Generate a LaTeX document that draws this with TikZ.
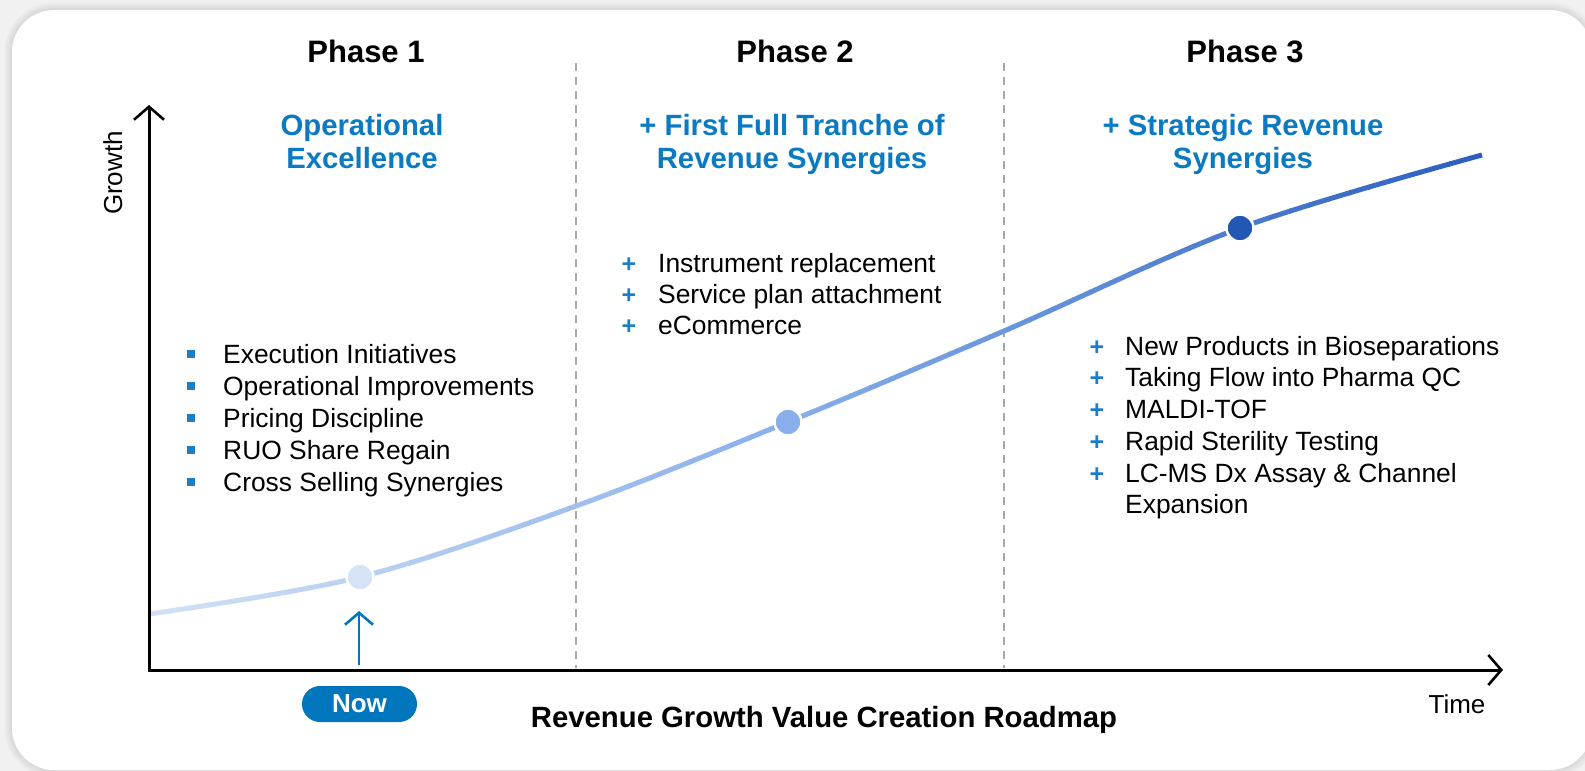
\documentclass[tikz,border=0pt]{standalone}
\usepackage{fontspec}
\setmainfont{Liberation Sans}
\usetikzlibrary{arrows.meta}

\definecolor{pagegray}{HTML}{F1F1F1}
\definecolor{titleblue}{HTML}{0A7AC3}
\definecolor{bulletblue}{HTML}{1E7DC6}
\definecolor{nowblue}{HTML}{0077BD}
\definecolor{curvelight}{HTML}{D2E1F6}
\definecolor{curvemid}{HTML}{88AFEA}
\definecolor{curvedark}{HTML}{2A5FBE}
\definecolor{dotone}{HTML}{D4E3F6}
\definecolor{dottwo}{HTML}{88AFEA}
\definecolor{dotthree}{HTML}{2257B4}
\definecolor{dashgray}{HTML}{A8A8A8}

\begin{document}
\begin{tikzpicture}[x=1pt,y=-1pt,
  phaselabel/.style={font=\fontsize{31}{36}\selectfont\bfseries, anchor=base, inner sep=0},
  bluetitle/.style={font=\fontsize{29.3}{34}\selectfont\bfseries, text=titleblue, anchor=base, inner sep=0},
  itemtext/.style={font=\fontsize{26.4}{31}\selectfont, anchor=base west, inner sep=0},
  plusmark/.style={font=\fontsize{25}{28}\selectfont\bfseries, text=bulletblue, anchor=base, inner sep=0},
  sqmark/.style={fill=bulletblue, minimum size=8.5pt, inner sep=0},
  axislabel/.style={font=\fontsize{26}{31}\selectfont, inner sep=0},
  divider/.style={dashgray, line width=2pt, dash pattern=on 8pt off 6pt},
  axisline/.style={line width=3pt, line join=miter, {Straight Barb[length=13pt,width=30pt,line width=2.6pt]}-{Straight Barb[length=13pt,width=30pt,line width=2.6pt]}},
  curveline/.style={line width=5pt},
  dotmark/.style={circle, minimum size=27pt, inner sep=0, draw=white, line width=2.5pt},
  nowpill/.style={fill=nowblue, rounded corners=18pt, minimum width=115pt, minimum height=36pt, text=white, font=\fontsize{26}{31}\selectfont\bfseries, inner sep=0},
  nowarrow/.style={nowblue, line width=2.6pt, -{Straight Barb[length=12pt,width=28pt,line width=2.6pt]}}
]
\useasboundingbox (0,0) rectangle (1585,771);

% page and card
\fill[pagegray] (0,0) rectangle (1585,771);
\foreach \k in {1,...,8}{
  \fill[black, opacity=0.012, rounded corners=42pt+\k pt] (12-\k,10-\k) rectangle (1592+\k,770+\k);
}
\fill[white, rounded corners=42pt] (12,10) rectangle (1592,770);

% phase headings
\node[phaselabel] (ph1) at (366,62) {Phase 1};
\node[phaselabel] (ph2) at (795,62) {Phase 2};
\node[phaselabel] (ph3) at (1245,62) {Phase 3};

\node[bluetitle] (t1a) at (362,135) {Operational};
\node[bluetitle] (t1b) at (362,168) {Excellence};
\node[bluetitle] (t2a) at (792,135) {+ First Full Tranche of};
\node[bluetitle] (t2b) at (792,168) {Revenue Synergies};
\node[bluetitle] (t3a) at (1243,135) {+ Strategic Revenue};
\node[bluetitle] (t3b) at (1243,168) {Synergies};

% phase dividers
\coordinate (dv1top) at (576,63);
\coordinate (dv1bot) at (576,668);
\coordinate (dv2top) at (1004,63);
\coordinate (dv2bot) at (1004,668);
\draw[divider] (dv1top) -- (dv1bot);
\draw[divider] (dv2top) -- (dv2bot);

% growth curve points
\coordinate (c0) at (149,614);
\coordinate (c1) at (360,577);
\coordinate (c2) at (576,506);
\coordinate (c3) at (788,422);
\coordinate (c4) at (1004,331);
\coordinate (c5) at (1240,228);
\coordinate (c6) at (1482,155);

% growth curve, shaded from light to dark in thin vertical strips
\foreach \i in {0,...,66}{
  \pgfmathsetmacro{\xa}{149+\i*20}
  \pgfmathsetmacro{\xb}{\xa+21}
  \pgfmathsetmacro{\xm}{\xa+10}
  \ifdim \xm pt<788pt
    \pgfmathsetmacro{\pc}{(\xm-149)/639*100}
    \colorlet{segcol}{curvemid!\pc!curvelight}
  \else
    \pgfmathsetmacro{\pc}{min(100,(\xm-788)/694*100)}
    \colorlet{segcol}{curvedark!\pc!curvemid}
  \fi
  \begin{scope}
    \clip (\xa,0) rectangle (\xb,771);
    \draw[curveline, segcol] plot[smooth, tension=0.55] coordinates {(c0) (c1) (c2) (c3) (c4) (c5) (c6)};
  \end{scope}
}

% milestones on the curve
\node[dotmark, fill=dotone] (m1) at (c1) {};
\node[dotmark, fill=dottwo] (m2) at (c3) {};
\node[dotmark, fill=dotthree] (m3) at (c5) {};

% axes
\coordinate (origin) at (149,670);
\coordinate (ytip) at (149,105);
\coordinate (xtip) at (1503,670);
\draw[axisline] (ytip) -- (origin) -- (xtip);
\node[axislabel, rotate=90, anchor=base] (growth) at (122,173) {Growth};
\node[axislabel, anchor=base] (time) at (1457,713) {Time};

% now marker
\node[nowpill] (now) at (359.5,704) {Now};
\coordinate (nowfoot) at (359,665);
\coordinate (nowtip) at (359,611);
\draw[nowarrow] (nowfoot) -- (nowtip);

% roadmap caption
\node[font=\fontsize{29.3}{34}\selectfont\bfseries, anchor=base, inner sep=0] (caption) at (824,727) {Revenue Growth Value Creation Roadmap};

% phase 1 items
\foreach \txt/\yy [count=\n] in {Execution Initiatives/363, Operational Improvements/395, Pricing Discipline/427, RUO Share Regain/459, Cross Selling Synergies/491}{
  \node[sqmark] (sq\n) at (191,\yy-9) {};
  \node[itemtext] (pa\n) at (223,\yy) {\txt};
}

% phase 2 items
\foreach \txt/\yy [count=\n] in {Instrument replacement/272, Service plan attachment/303, eCommerce/334}{
  \node[plusmark] (pl\n) at (629,\yy) {+};
  \node[itemtext] (pb\n) at (658,\yy) {\txt};
}

% phase 3 items
\foreach \txt/\yy [count=\n] in {New Products in Bioseparations/355, Taking Flow into Pharma QC/386, MALDI-TOF/418, Rapid Sterility Testing/450, LC-MS Dx Assay \& Channel/482}{
  \node[plusmark] (pm\n) at (1097,\yy) {+};
  \node[itemtext] (pc\n) at (1125,\yy) {\txt};
}
\node[itemtext] (pc6) at (1125,513) {Expansion};

\end{tikzpicture}
\end{document}
